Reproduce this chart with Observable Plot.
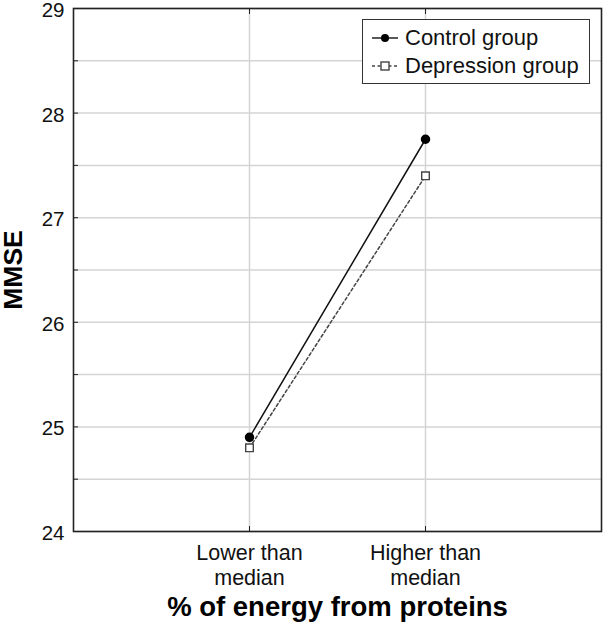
<!DOCTYPE html>
<html><head><meta charset="utf-8">
<script src="https://cdn.jsdelivr.net/npm/d3@7"></script>
<script src="https://cdn.jsdelivr.net/npm/@observablehq/plot@0.6"></script>
<style>
body{margin:0;background:#fff;font-family:"Liberation Sans",Arial,sans-serif;}
#wrap{position:relative;width:604px;height:623px;}
#legend{position:absolute;left:362px;top:19px;width:226px;height:63px;border:1.5px solid #333;background:#fff;font-size:22px;color:#111;}
.row{position:absolute;left:0;height:24px;display:flex;align-items:center;}
.row svg{margin-left:8px;margin-right:6px;}
</style></head>
<body><div id="wrap"></div>
<script>
const categories = ["Lower than\nmedian", "Higher than\nmedian"];
const groups = ["Control group", "Depression group"];
const controlValues = [24.9, 27.75];
const depressionValues = [24.8, 27.4];
const yTickLabels = [24, 25, 26, 27, 28, 29];
const yGridValues = [24, 24.5, 25, 25.5, 26, 26.5, 27, 27.5, 28, 28.5, 29];

const control = categories.map((c, i) => ({cat: c, value: controlValues[i], group: groups[0]}));
const depression = categories.map((c, i) => ({cat: c, value: depressionValues[i], group: groups[1]}));

const chart = Plot.plot({
  width: 604,
  height: 623,
  marginLeft: 73,
  marginRight: 3,
  marginTop: 8,
  marginBottom: 92,
  style: {fontFamily: '"Liberation Sans", Arial, sans-serif', fontSize: "20px", color: "#111", background: "#fff"},
  x: {type: "point", domain: categories, padding: 1, axis: null},
  y: {domain: [24, 29], axis: null},
  marks: [
    Plot.gridY(yGridValues, {stroke: "#d4d4d4", strokeOpacity: 1, strokeWidth: 1.5}),
    Plot.gridX(categories, {stroke: "#d4d4d4", strokeOpacity: 1, strokeWidth: 1.5}),
    Plot.frame({stroke: "#222", strokeWidth: 1.6}),
    Plot.axisY(yGridValues, {tickSize: -5, tickFormat: () => "", label: null, stroke: "#222"}),
    Plot.axisX(categories, {tickSize: -5, tickFormat: () => "", label: null, stroke: "#222"}),
    Plot.axisX(categories, {anchor: "top", tickSize: -5, tickFormat: () => "", label: null, stroke: "#222"}),
    Plot.text(yTickLabels, {y: d => d, frameAnchor: "left", dx: -9, dy: 2, textAnchor: "end", lineAnchor: "middle", fontSize: 20.5, fill: "#111", text: d => String(d)}),
    Plot.text(categories, {x: d => d, frameAnchor: "bottom", dy: 11, textAnchor: "middle", lineAnchor: "top", lineHeight: 1.16, fontSize: 21.5, fill: "#111", text: d => d}),
    Plot.line(depression, {x: "cat", y: "value", stroke: "#444", strokeWidth: 1.5, strokeDasharray: "3,2.5"}),
    Plot.line(control, {x: "cat", y: "value", stroke: "#111", strokeWidth: 1.5}),
    Plot.dot(depression, {x: "cat", y: "value", symbol: "square", r: 4.3, fill: "#fff", stroke: "#444", strokeWidth: 1.4}),
    Plot.dot(control, {x: "cat", y: "value", r: 4, fill: "#000", stroke: "#000"}),
    Plot.text(["% of energy from proteins"], {frameAnchor: "bottom", dy: 84, lineAnchor: "bottom", textAnchor: "middle", fontSize: 27.5, fontWeight: "bold", fill: "#000"}),
    Plot.text(["MMSE"], {frameAnchor: "left", dx: -60, rotate: -90, textAnchor: "middle", lineAnchor: "middle", fontSize: 26.5, fontWeight: "bold", fill: "#000"})
  ]
});
const wrap = document.getElementById("wrap");
wrap.appendChild(chart);

const legend = document.createElement("div");
legend.id = "legend";
legend.innerHTML = `
<div class="row" style="top:6px"><svg width="28" height="14"><line x1="1" y1="7" x2="27" y2="7" stroke="#111" stroke-width="1.4"/><circle cx="14" cy="7" r="4" fill="#000"/></svg><span>${groups[0]}</span></div>
<div class="row" style="top:34px"><svg width="28" height="14"><line x1="1" y1="7" x2="27" y2="7" stroke="#444" stroke-width="1.4" stroke-dasharray="3,2.5"/><rect x="10" y="3" width="8" height="8" fill="#fff" stroke="#444" stroke-width="1.4"/></svg><span>${groups[1]}</span></div>`;
wrap.appendChild(legend);
</script>
</body></html>
